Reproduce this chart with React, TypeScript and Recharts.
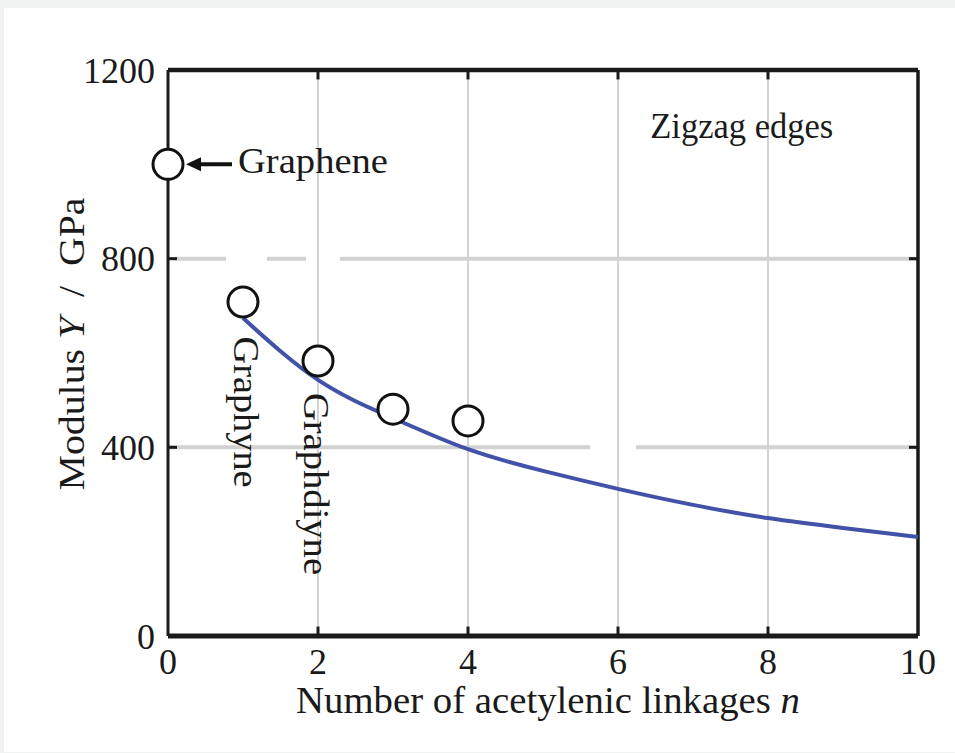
import React from "react";
import {
  ComposedChart,
  Line,
  Scatter,
  XAxis,
  YAxis,
  ReferenceLine,
  ReferenceDot,
} from "recharts";

// ---- data ----
const pointN = [0, 1, 2, 3, 4];
const pointModulus = [1000, 708, 583, 481, 456];
const fitN = [1, 2, 3, 4, 5, 6, 7, 8, 9, 10];
const fitModulus = [674, 543, 462, 396, 350, 312, 278, 250, 229, 210];
const xTicks = [0, 2, 4, 6, 8, 10];
const yTicks = [0, 400, 800, 1200];
const xGrid = [2, 4, 6, 8];
const yGrid = [400, 800];
const annotations = {
  graphene: { n: 0, y: 1000, text: "Graphene" },
  graphyne: { n: 1, y: 708, text: "Graphyne" },
  graphdiyne: { n: 2, y: 583, text: "Graphdiyne" },
  zigzag: { n: 6.43, y: 1056, text: "Zigzag edges" },
};
const xLabel = "Number of acetylenic linkages ";
const xLabelVar = "n";
const yLabelPre = "Modulus ";
const yLabelVar = "Y";
const yLabelPost = "  /  GPa";

const points = pointN.map((n, i) => ({ x: n, y: pointModulus[i] }));
const fit = fitN.map((n, i) => ({ x: n, y: fitModulus[i] }));

const FONT = "'Liberation Serif', 'Times New Roman', serif";
const INK = "#1a1a1a";
const GRID = "#d2d2d2";

const Circle = (p: any) => (
  <circle cx={p.cx} cy={p.cy} r={15} fill="#ffffff" stroke="#111" strokeWidth={3} />
);

const GrapheneLabel = (p: any) => {
  const { cx, cy } = p;
  return (
    <g>
      <line x1={cx + 30} y1={cy} x2={cx + 64} y2={cy} stroke="#111" strokeWidth={4} />
      <polygon points={`${cx + 18},${cy} ${cx + 33},${cy - 7} ${cx + 33},${cy + 7}`} fill="#111" />
      <text x={cx + 70} y={cy + 9} fontFamily={FONT} fontSize={35} fill={INK} textLength={150} lengthAdjust="spacingAndGlyphs">
        {annotations.graphene.text}
      </text>
    </g>
  );
};

const VerticalLabel = (dx: number, dy: number, len: number, text: string) => (p: any) => {
  const x = p.cx + dx;
  const y = p.cy + dy;
  return (
    <text
      x={x}
      y={y}
      transform={`rotate(90 ${x} ${y})`}
      textAnchor="middle"
      dominantBaseline="central"
      fontFamily={FONT}
      fontSize={35}
      fill={INK}
      textLength={len}
      lengthAdjust="spacingAndGlyphs"
    >
      {text}
    </text>
  );
};

const ZigzagLabel = (p: any) => (
  <text x={p.cx} y={p.cy} fontFamily={FONT} fontSize={35} fill={INK} textLength={183} lengthAdjust="spacingAndGlyphs">
    {annotations.zigzag.text}
  </text>
);

const XLabelContent = (props: any) => {
  const vb = props.viewBox || { x: 168, y: 636, width: 750, height: 50 };
  return (
    <text
      x={vb.x + vb.width / 2 + 5}
      y={vb.y + 77}
      textAnchor="middle"
      fontFamily={FONT}
      fontSize={37}
      fill={INK}
      textLength={504}
      lengthAdjust="spacingAndGlyphs"
    >
      {xLabel}
      <tspan fontStyle="italic">{xLabelVar}</tspan>
    </text>
  );
};

const YLabelContent = (props: any) => {
  const vb = props.viewBox || { x: 108, y: 70, width: 60, height: 566 };
  const x = vb.x - 24;
  const y = vb.y + vb.height / 2 - 9;
  return (
    <text
      x={x}
      y={y}
      transform={`rotate(-90 ${x} ${y})`}
      textAnchor="middle"
      fontFamily={FONT}
      fontSize={35}
      fill={INK}
      textLength={293}
      lengthAdjust="spacingAndGlyphs"
      xmlSpace="preserve"
    >
      {yLabelPre}
      <tspan fontStyle="italic">{yLabelVar}</tspan>
      {yLabelPost}
    </text>
  );
};

export default function App() {
  return (
    <div style={{ position: "absolute", left: 0, top: 0, width: 955, height: 753, background: "#f1f3f2" }}>
      <div style={{ position: "absolute", left: 4, top: 8, width: 951, height: 744, background: "#ffffff" }} />
      <div style={{ position: "absolute", left: 0, top: 0 }}>
        <ComposedChart width={955} height={753} margin={{ top: 70, right: 37, bottom: 67, left: 108 }}>
          <XAxis
            type="number"
            dataKey="x"
            domain={[0, 10]}
            ticks={xTicks}
            tickSize={0}
            tickMargin={12}
            axisLine={false}
            tickLine={false}
            height={50}
            tick={{ fontFamily: FONT, fontSize: 36, fill: INK }}
            label={{ content: XLabelContent }}
          />
          <YAxis
            type="number"
            dataKey="y"
            domain={[0, 1200]}
            ticks={yTicks}
            tickSize={0}
            tickMargin={13}
            axisLine={false}
            tickLine={false}
            width={60}
            tick={{ fontFamily: FONT, fontSize: 36, fill: INK }}
            label={{ content: YLabelContent }}
          />
          {xGrid.map((v) => (
            <ReferenceLine key={`gx${v}`} x={v} stroke="#c4c4c4" strokeWidth={1.5} />
          ))}
          <ReferenceLine y={yGrid[0]} stroke={GRID} strokeWidth={4} strokeDasharray="422 46 2000" />
          <ReferenceLine y={yGrid[1]} stroke={GRID} strokeWidth={4} strokeDasharray="0 7 51 41 39 34 2000" />
          {/* frame */}
          <ReferenceLine y={1200} stroke={INK} strokeWidth={4.5} />
          <ReferenceLine y={0} stroke={INK} strokeWidth={5} />
          <ReferenceLine x={0} stroke={INK} strokeWidth={3} />
          <ReferenceLine x={10} stroke={INK} strokeWidth={3.5} />
          {/* inward ticks */}
          {xGrid.map((v) => (
            <ReferenceLine key={`tb${v}`} segment={[{ x: v, y: 0 }, { x: v, y: 20 }]} stroke={INK} strokeWidth={3} />
          ))}
          {xGrid.map((v) => (
            <ReferenceLine key={`tt${v}`} segment={[{ x: v, y: 1200 }, { x: v, y: 1180 }]} stroke={INK} strokeWidth={3} />
          ))}
          {yGrid.map((v) => (
            <ReferenceLine key={`tl${v}`} segment={[{ x: 0, y: v }, { x: 0.12, y: v }]} stroke={INK} strokeWidth={3} />
          ))}
          {yGrid.map((v) => (
            <ReferenceLine key={`tr${v}`} segment={[{ x: 10, y: v }, { x: 9.88, y: v }]} stroke={INK} strokeWidth={3} />
          ))}
          <Line
            data={fit}
            dataKey="y"
            type="natural"
            stroke="#4152a8"
            strokeWidth={4}
            dot={false}
            activeDot={false}
            isAnimationActive={false}
          />
          <Scatter data={points} dataKey="y" shape={Circle} isAnimationActive={false} />
          <ReferenceDot x={annotations.graphene.n} y={annotations.graphene.y} shape={GrapheneLabel} />
          <ReferenceDot
            x={annotations.graphyne.n}
            y={annotations.graphyne.y}
            shape={VerticalLabel(2, 110, 151, annotations.graphyne.text)}
          />
          <ReferenceDot
            x={annotations.graphdiyne.n}
            y={annotations.graphdiyne.y}
            shape={VerticalLabel(-3, 123, 182, annotations.graphdiyne.text)}
          />
          <ReferenceDot x={annotations.zigzag.n} y={annotations.zigzag.y} shape={ZigzagLabel} />
        </ComposedChart>
      </div>
    </div>
  );
}
